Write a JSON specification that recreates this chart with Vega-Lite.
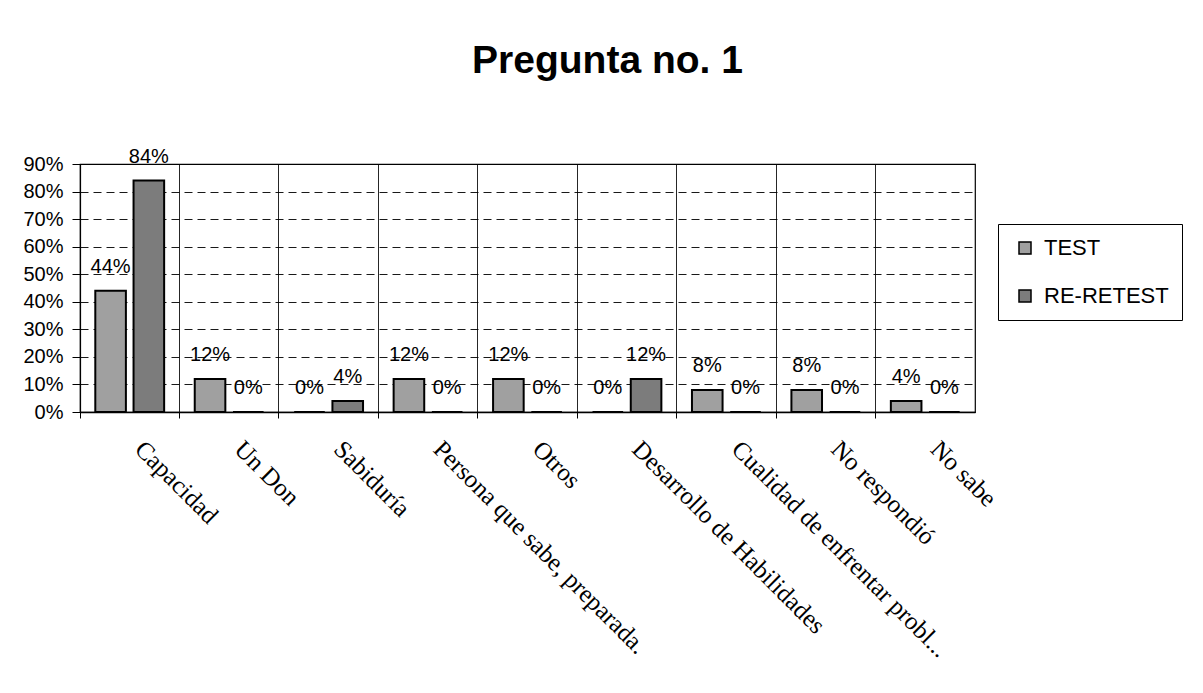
{
  "$schema": "https://vega.github.io/schema/vega-lite/v6.json",
  "autosize": {"type": "none"},
  "width": 895,
  "height": 248,
  "padding": {"left": 80, "top": 164, "right": 228, "bottom": 281},
  "background": "white",
  "title": {
    "text": "Pregunta no. 1",
    "font": "Liberation Sans",
    "fontSize": 39,
    "fontWeight": "bold",
    "color": "black",
    "anchor": "middle",
    "baseline": "alphabetic",
    "dx": 80,
    "offset": 35
  },
  "config": {
    "view": {"stroke": "black", "strokeWidth": 1.2},
    "font": "Liberation Sans"
  },
  "data": {
    "values": [
      {"cat": "Capacidad", "serie": "TEST", "v": 0.44},
      {"cat": "Capacidad", "serie": "RE-RETEST", "v": 0.84},
      {"cat": "Un Don", "serie": "TEST", "v": 0.12},
      {"cat": "Un Don", "serie": "RE-RETEST", "v": 0.0},
      {"cat": "Sabiduría", "serie": "TEST", "v": 0.0},
      {"cat": "Sabiduría", "serie": "RE-RETEST", "v": 0.04},
      {"cat": "Persona que sabe, preparada.", "serie": "TEST", "v": 0.12},
      {"cat": "Persona que sabe, preparada.", "serie": "RE-RETEST", "v": 0.0},
      {"cat": "Otros", "serie": "TEST", "v": 0.12},
      {"cat": "Otros", "serie": "RE-RETEST", "v": 0.0},
      {"cat": "Desarrollo de Habilidades", "serie": "TEST", "v": 0.0},
      {"cat": "Desarrollo de Habilidades", "serie": "RE-RETEST", "v": 0.12},
      {"cat": "Cualidad de enfrentar probl...", "serie": "TEST", "v": 0.08},
      {"cat": "Cualidad de enfrentar probl...", "serie": "RE-RETEST", "v": 0.0},
      {"cat": "No respondió", "serie": "TEST", "v": 0.08},
      {"cat": "No respondió", "serie": "RE-RETEST", "v": 0.0},
      {"cat": "No sabe", "serie": "TEST", "v": 0.04},
      {"cat": "No sabe", "serie": "RE-RETEST", "v": 0.0}
    ]
  },
  "encoding": {
    "x": {
      "field": "cat",
      "type": "nominal",
      "sort": null,
      "scale": {"paddingInner": 0, "paddingOuter": 0},
      "axis": {
        "title": null,
        "bandPosition": 0,
        "grid": true,
        "gridColor": "black",
        "gridWidth": 1,
        "gridOpacity": 0.85,
        "domainColor": "black",
        "domainWidth": 1.5,
        "tickColor": "black",
        "tickSize": 6,
        "labelAngle": 45,
        "labelAlign": "left",
        "labelBaseline": "top",
        "labelOffset": 18,
        "labelPadding": 18,
        "labelFont": "Liberation Serif",
        "labelFontSize": 25,
        "labelColor": "black",
        "labelLimit": 500
      }
    },
    "xOffset": {
      "field": "serie",
      "type": "nominal",
      "sort": ["TEST", "RE-RETEST"],
      "scale": {"paddingInner": 0.2, "paddingOuter": 0.4}
    },
    "y": {
      "field": "v",
      "type": "quantitative",
      "scale": {"domain": [0, 0.9], "nice": false},
      "axis": {
        "title": null,
        "format": ".0%",
        "values": [0, 0.1, 0.2, 0.3, 0.4, 0.5, 0.6, 0.7, 0.8, 0.9],
        "grid": true,
        "gridColor": "black",
        "gridDash": [8, 5],
        "gridOpacity": 0.9,
        "domainColor": "black",
        "domainWidth": 1.2,
        "tickColor": "black",
        "tickSize": 8,
        "labelFontSize": 20,
        "labelColor": "black",
        "labelPadding": 9
      }
    }
  },
  "layer": [
    {
      "mark": {"type": "bar", "stroke": "black", "strokeWidth": 2},
      "encoding": {
        "color": {
          "field": "serie",
          "type": "nominal",
          "sort": ["TEST", "RE-RETEST"],
          "scale": {"domain": ["TEST", "RE-RETEST"], "range": ["#a0a0a0", "#7c7c7c"]},
          "legend": {
            "title": null,
            "orient": "none",
            "legendX": 918,
            "legendY": 60,
            "symbolType": "square",
            "symbolSize": 144,
            "symbolStrokeColor": "black",
            "symbolStrokeWidth": 1.5,
            "symbolOffset": 3,
            "labelFontSize": 22,
            "labelColor": "black",
            "labelFont": "Liberation Sans",
            "labelOffset": 8,
            "rowPadding": 26,
            "padding": 13,
            "strokeColor": "black",
            "fillColor": "white",
            "labelLimit": 300
          }
        }
      }
    },
    {
      "mark": {"type": "text", "dy": -24, "fontSize": 20, "color": "black", "font": "Liberation Sans"},
      "encoding": {
        "text": {"field": "v", "type": "quantitative", "format": ".0%"}
      }
    }
  ]
}
